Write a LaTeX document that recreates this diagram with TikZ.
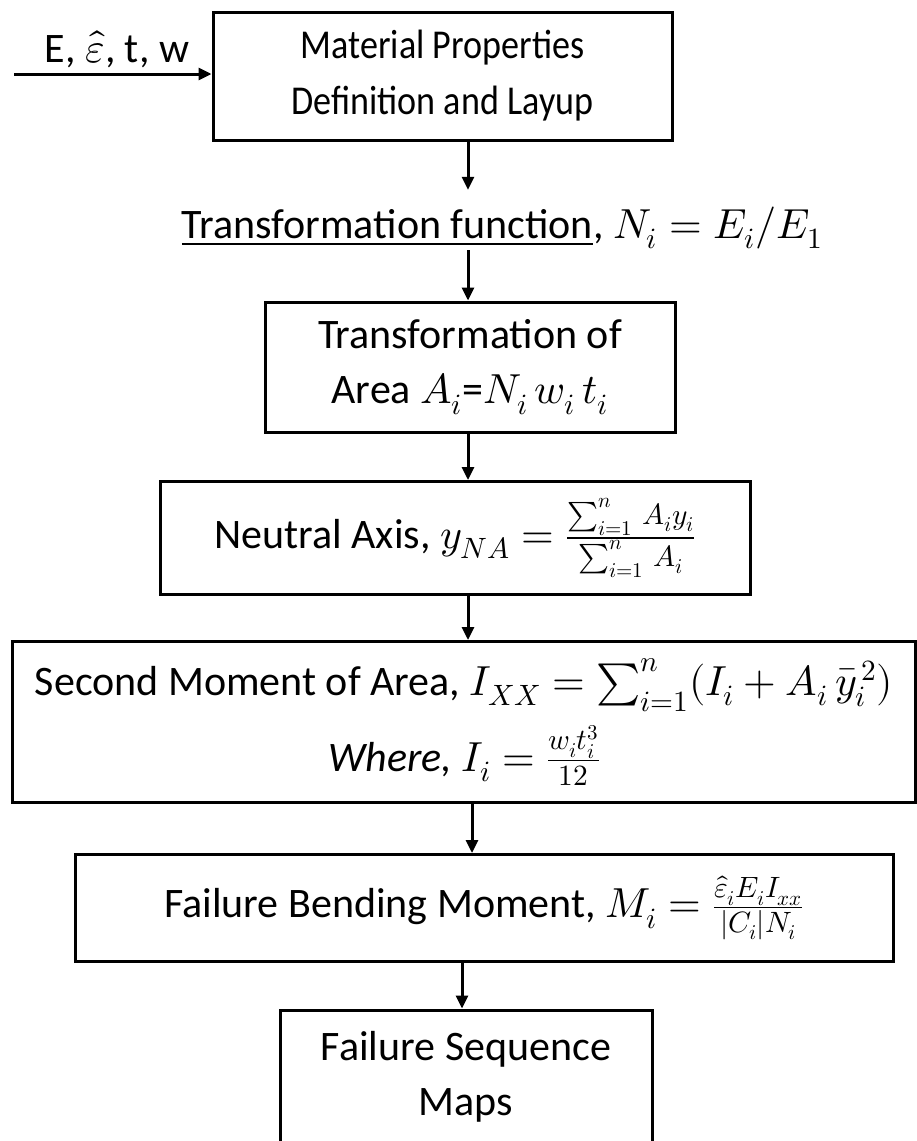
\documentclass[tikz,border=0pt]{standalone}
\usepackage{unicode-math}
\setmainfont{Carlito}
\newfontfamily\condfont{Carlito}[FakeStretch=0.88]
\setmathfont{Latin Modern Math}
\usetikzlibrary{arrows.meta}
\begin{document}
\begin{tikzpicture}[x=1pt,y=-1pt,
  box/.style={draw=black,line width=3pt,align=center,inner sep=0pt,font=\fontsize{42}{55}\selectfont},
  lbl/.style={inner sep=0pt,font=\fontsize{42}{55}\selectfont},
  arr/.style={line width=3pt,-{Triangle[length=13pt,width=12pt]}}]
\useasboundingbox (0,0) rectangle (917,1141);
\clip (0,0) rectangle (917,1141);
\coordinate (ax) at (468,0);
\node[box,minimum width=459pt,minimum height=128pt,font=\condfont\fontsize{41}{56}\selectfont] (b1) at (442.5,76) {Material Properties\\Definition and Layup};
\node[lbl,anchor=base] (inp) at (117,62) {E, $\hat{\varepsilon}$, t, w};
\coordinate (start) at (14,74);
\draw[arr] (start) -- (b1.west |- start);
\node[lbl,anchor=base,text height=30pt,text depth=10pt] (tf) at (502,238) {\underline{Transformation function}, $N_i = E_i/E_1$};
\draw[arr] (b1.south -| ax) -- ([yshift=18pt]tf.north -| ax);
\node[box,minimum width=410pt,minimum height=130pt] (b2) at (470,367) {Transformation of\\Area $A_i$=$N_i\,w_i\,t_i$};
\draw[arr] ([yshift=-2pt]tf.south -| ax) -- (b2.north -| ax);
\node[box,minimum width=590pt,minimum height=113pt] (b3) at (455,538) {Neutral Axis, $y_{NA} = \frac{\sum_{i=1}^{n}\, A_i y_i}{\sum_{i=1}^{n}\, A_i}$};
\draw[arr] (b2.south -| ax) -- (b3.north -| ax);
\node[box,minimum width=903pt,minimum height=161pt] (b4) at (464,722) {Second Moment of Area, $I_{XX} = \sum_{i=1}^{n}(I_i + A_i\,\bar{y}_i^{\,2})$\\[12pt]\textit{Where,} $I_i = \frac{w_i t_i^3}{12}$};
\draw[arr] (b3.south -| ax) -- (b4.north -| ax);
\coordinate (ax2) at (472,0);
\node[box,minimum width=818pt,minimum height=107pt] (b5) at (484,908) {Failure Bending Moment, $M_i = \frac{\hat{\varepsilon}_i E_i I_{xx}}{|C_i| N_i}$};
\draw[arr] (b4.south -| ax2) -- (b5.north -| ax2);
\coordinate (ax3) at (462,0);
\node[box,minimum width=372pt,minimum height=134pt] (b6) at (466,1077) {Failure Sequence\\Maps};
\draw[arr] (b5.south -| ax3) -- (b6.north -| ax3);
\end{tikzpicture}
\end{document}
